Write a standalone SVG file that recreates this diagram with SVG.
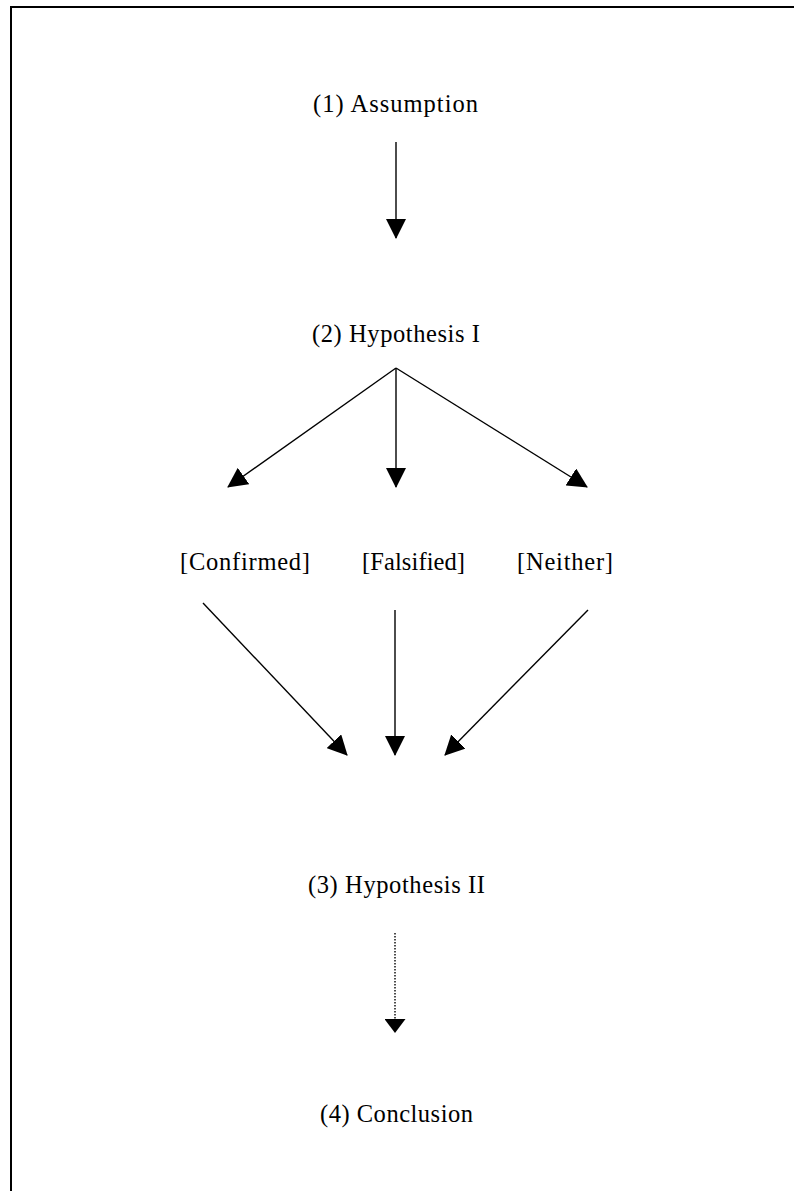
<svg xmlns="http://www.w3.org/2000/svg" width="794" height="1191" viewBox="0 0 794 1191">
  <style>
    .lbl { font-family: "Liberation Serif", "Times New Roman", serif; font-size: 24.5px; fill: #000; text-anchor: middle; }
    .edge { stroke: #000; stroke-width: 1.4; fill: none; }
    .dot { stroke: #000; stroke-width: 1.4; fill: none; stroke-dasharray: 1.5 1.5; }
    .frame { stroke: #000; stroke-width: 2; fill: none; }
  </style>
  <defs>
    <marker id="ah" viewBox="0 0 20 20" refX="19" refY="10" markerWidth="20" markerHeight="20" markerUnits="userSpaceOnUse" orient="auto">
      <path d="M0,0 L20,10 L0,20 z" fill="#000"/>
    </marker>
    <marker id="ahs" viewBox="0 0 14 21" refX="13" refY="10.5" markerWidth="14" markerHeight="21" markerUnits="userSpaceOnUse" orient="auto">
      <path d="M0,0 L14,10.5 L0,21 z" fill="#000"/>
    </marker>
  </defs>
  <rect width="794" height="1191" fill="#fff"/>
  <g id="frame">
    <line class="frame" x1="10" y1="7" x2="794" y2="7"/>
    <line class="frame" x1="11" y1="6" x2="11" y2="1191"/>
  </g>
  <g id="connectors">
    <line class="edge" x1="396" y1="142" x2="396" y2="238" marker-end="url(#ah)"/>
    <line class="edge" x1="396" y1="368" x2="228" y2="487" marker-end="url(#ah)"/>
    <line class="edge" x1="396" y1="368" x2="396" y2="487" marker-end="url(#ah)"/>
    <line class="edge" x1="396" y1="368" x2="587" y2="487" marker-end="url(#ah)"/>
    <line class="edge" x1="203" y1="603" x2="347" y2="755" marker-end="url(#ah)"/>
    <line class="edge" x1="395" y1="610" x2="395" y2="755" marker-end="url(#ah)"/>
    <line class="edge" x1="588" y1="610" x2="445" y2="755" marker-end="url(#ah)"/>
    <line class="dot" x1="395" y1="933" x2="395" y2="1032" marker-end="url(#ahs)"/>
  </g>
  <g id="n1"><text class="lbl" x="395.5" y="112" textLength="165" lengthAdjust="spacing">(1) Assumption</text></g>
  <g id="n2"><text class="lbl" x="396" y="342" textLength="168" lengthAdjust="spacing">(2) Hypothesis I</text></g>
  <g id="confirmed"><text class="lbl" x="245" y="570" textLength="130" lengthAdjust="spacing">[Confirmed]</text></g>
  <g id="falsified"><text class="lbl" x="413.5" y="570" textLength="103" lengthAdjust="spacing">[Falsified]</text></g>
  <g id="neither"><text class="lbl" x="565" y="570" textLength="96" lengthAdjust="spacing">[Neither]</text></g>
  <g id="n3"><text class="lbl" x="396.5" y="893" textLength="177" lengthAdjust="spacing">(3) Hypothesis II</text></g>
  <g id="n4"><text class="lbl" x="396.5" y="1122" textLength="153" lengthAdjust="spacing">(4) Conclusion</text></g>
</svg>
